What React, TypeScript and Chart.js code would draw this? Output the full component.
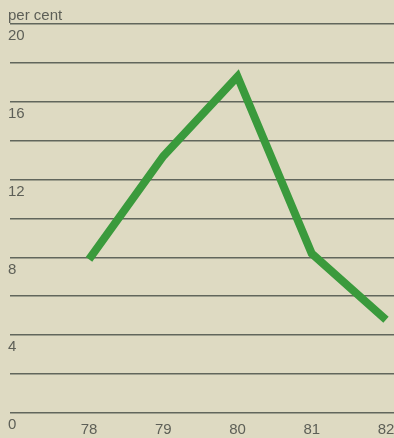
import React, { useEffect, useRef } from "react";
import { Chart, registerables } from "chart.js";

Chart.register(...registerables);

const years = [78, 79, 80, 81, 82];
const rates = [7.9, 13.2, 17.3, 8.2, 4.8];
const yTickLabels = [0, 4, 8, 12, 16, 20];

const BG = "#dedac2";
const TEXT = "#5d5f57";
const GRID = "#61665c";
const LINE = "#3a9a3c";
const FONT = "'Liberation Sans', Arial, sans-serif";

export default function App() {
  const ref = useRef<HTMLCanvasElement | null>(null);

  useEffect(() => {
    document.body.style.margin = "0";
    const canvas = ref.current;
    if (!canvas) return;

    const unitLabel = {
      id: "unitLabel",
      afterDraw(chart: any) {
        const ctx = chart.ctx;
        ctx.save();
        ctx.font = `15px ${FONT}`;
        ctx.fillStyle = TEXT;
        ctx.textBaseline = "alphabetic";
        ctx.textAlign = "left";
        ctx.fillText("per cent", 8, 20);
        ctx.restore();
      },
    };

    const chart = new Chart(canvas, {
      type: "line",
      data: {
        datasets: [
          {
            data: years.map((y, i) => ({ x: y, y: rates[i] })),
            borderColor: LINE,
            borderWidth: 8,
            borderJoinStyle: "miter",
            borderCapStyle: "butt",
            pointRadius: 0,
            tension: 0,
            fill: false,
          },
        ],
      },
      options: {
        responsive: false,
        animation: false,
        layout: { padding: { top: 24, right: 0, left: 0, bottom: 0 } },
        plugins: {
          legend: { display: false },
          tooltip: { enabled: false },
        },
        scales: {
          x: {
            type: "linear",
            min: 76.936,
            max: 82.108,
            grid: { display: false, drawTicks: false },
            border: { display: false },
            afterBuildTicks: (axis: any) => {
              axis.ticks = years.map((v) => ({ value: v }));
            },
            afterFit: (axis: any) => {
              axis.height = 25;
              axis.paddingLeft = 0;
              axis.paddingRight = 0;
            },
            ticks: {
              color: TEXT,
              font: { family: FONT, size: 15 },
              padding: 8,
              maxRotation: 0,
              autoSkip: false,
              callback: (v: any) => String(v),
            },
          },
          y: {
            min: 0,
            max: 20,
            grid: {
              color: GRID,
              lineWidth: 1.6,
              drawTicks: false,
            },
            border: { display: false },
            afterFit: (axis: any) => {
              axis.width = 10;
              axis.paddingTop = 0;
              axis.paddingBottom = 0;
            },
            ticks: {
              stepSize: 2,
              mirror: true,
              padding: -2,
              labelOffset: 12,
              color: TEXT,
              font: { family: FONT, size: 15 },
              callback: (v: any) => (yTickLabels.includes(Number(v)) ? String(v) : ""),
            },
          },
        },
      },
      plugins: [unitLabel],
    });

    return () => chart.destroy();
  }, []);

  return (
    <div
      style={{
        position: "fixed",
        left: 0,
        top: 0,
        width: 394,
        height: 438,
        background: BG,
      }}
    >
      <canvas ref={ref} width={394} height={438} style={{ display: "block" }} />
    </div>
  );
}
